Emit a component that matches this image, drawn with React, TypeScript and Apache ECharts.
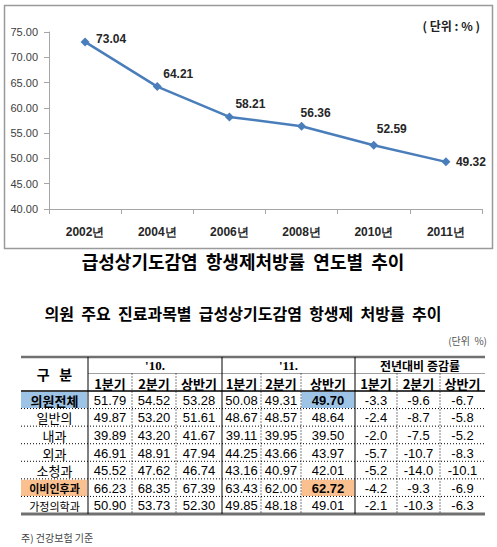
import React, { useEffect, useRef } from "react";
import * as echarts from "echarts";

const years = ["2002년", "2004년", "2006년", "2008년", "2010년", "2011년"];
const rates = [73.04, 64.21, 58.21, 56.36, 52.59, 49.32];
const yTicks = { min: 40, max: 75, interval: 5 };

const rowLabels = ["의원전체", "일반의", "내과", "외과", "소청과", "이비인후과", "가정의학과"];
const vals2010 = [
  [51.79, 54.52, 53.28],
  [49.87, 53.2, 51.61],
  [39.89, 43.2, 41.67],
  [46.91, 48.91, 47.94],
  [45.52, 47.62, 46.74],
  [66.23, 68.35, 67.39],
  [50.9, 53.73, 52.3],
];
const vals2011 = [
  [50.08, 49.31, 49.7],
  [48.67, 48.57, 48.64],
  [39.11, 39.95, 39.5],
  [44.25, 43.66, 43.97],
  [43.16, 40.97, 42.01],
  [63.43, 62.0, 62.72],
  [49.85, 48.18, 49.01],
];
const changes = [
  [-3.3, -9.6, -6.7],
  [-2.4, -8.7, -5.8],
  [-2.0, -7.5, -5.2],
  [-5.7, -10.7, -8.3],
  [-5.2, -14.0, -10.1],
  [-4.2, -9.3, -6.9],
  [-2.1, -10.3, -6.3],
];
const groupHeaders = ["'10.", "'11.", "전년대비 증감률"];
const subHeaders = ["1분기", "2분기", "상반기"];

// styling / layout (not data)
const labelOffsets = [[26, -3], [21, -13], [21, -13], [14, -13], [18, -16], [25, 0]];
const KR = "'Noto Sans CJK KR', sans-serif";
const NUM = "'Liberation Sans', Arial, sans-serif";

export default function App() {
  const ref = useRef<HTMLDivElement>(null);
  useEffect(() => {
    document.body.style.margin = "0";
    const chart = echarts.init(ref.current!, null, { renderer: "svg" });

    const colX = [21, 88, 132, 176, 222, 261, 301, 355, 397, 440, 485];
    const hTop = 357, hMid = 373.5, hBot = 391, tBot = 514;
    const rowH = (tBot - hBot) / rowLabels.length;
    const rowY = (i: number) => hBot + i * rowH;
    const g: any[] = [];

    // chart frame
    g.push({ type: "rect", shape: { x: 4.5, y: 5.5, width: 488, height: 243 }, style: { fill: "none", stroke: "#9a9a9a", lineWidth: 1.5 }, z: 0 });
    g.push({ type: "text", x: 480, y: 25, style: { text: "( 단위 : % )", font: `bold 12px ${KR}`, fill: "#222", textAlign: "right", textVerticalAlign: "middle" } });
    g.push({ type: "text", x: 243, y: 261, style: { text: "급성상기도감염  항생제처방률  연도별  추이", font: `bold 18px ${KR}`, fill: "#000", textAlign: "center", textVerticalAlign: "middle" } });

    // table title
    g.push({ type: "text", x: 243, y: 313, style: { text: "의원  주요  진료과목별  급성상기도감염  항생제  처방률  추이", font: `bold 16px ${KR}`, fill: "#000", textAlign: "center", textVerticalAlign: "middle" } });
    g.push({ type: "text", x: 487, y: 340, style: { text: "(단위  %)", font: `10px ${KR}`, fill: "#555", textAlign: "right", textVerticalAlign: "middle" } });

    // highlights
    const hl = (x1: number, x2: number, r: number, color: string) =>
      g.push({ type: "rect", shape: { x: x1, y: rowY(r) + 1, width: x2 - x1, height: rowH - 1.5 }, style: { fill: color } });
    hl(21, 87, 0, "#9DC3E6");
    hl(301.5, 354.5, 0, "#9DC3E6");
    hl(21, 87, 5, "#FAC090");
    hl(301.5, 354.5, 5, "#FAC090");

    // lines
    const line = (x1: number, y1: number, x2: number, y2: number, stroke: string, lw: number, dash?: number[]) =>
      g.push({ type: "line", shape: { x1, y1, x2, y2 }, style: { stroke, lineWidth: lw, lineDash: dash } });
    line(21, hTop, 485, hTop, "#707070", 2.5);
    line(88, hMid, 485, hMid, "#a0a0a0", 1);
    line(21, hBot, 485, hBot, "#000", 1.5);
    for (let i = 1; i < rowLabels.length; i++) line(21, rowY(i), 485, rowY(i), "#000", 1, [1, 2]);
    line(21, tBot, 485, tBot, "#707070", 3);
    [88, 222, 355].forEach((x) => line(x, hTop, x, tBot, "#000", 1));
    [132, 176, 261, 301, 397, 440].forEach((x) => line(x, hMid, x, tBot, "#000", 1, [1, 2]));

    // headers
    const txt = (x: number, y: number, text: string, font: string, fill = "#000") =>
      g.push({ type: "text", x, y, style: { text, font, fill, textAlign: "center", textVerticalAlign: "middle" } });
    txt((colX[0] + colX[1]) / 2, (hTop + hBot) / 2, "구   분", `bold 14px ${KR}`);
    groupHeaders.forEach((h, gi) => {
      const x1 = colX[1 + gi * 3], x2 = colX[4 + gi * 3];
      txt((x1 + x2) / 2, (hTop + hMid) / 2 + 0.5, h, gi < 2 ? `bold 13px 'Liberation Serif', serif` : `bold 12px ${KR}`);
      subHeaders.forEach((s, si) => {
        const a = colX[1 + gi * 3 + si], b = colX[2 + gi * 3 + si];
        txt((a + b) / 2, (hMid + hBot) / 2 + 1, s, `bold 13px ${KR}`);
      });
    });

    // rows
    rowLabels.forEach((lab, r) => {
      const cy = rowY(r) + rowH / 2 + 0.5;
      const small = lab.length >= 5;
      const bold = r === 0 || r === 5;
      txt((colX[0] + colX[1]) / 2, cy, lab, `${bold ? "bold " : ""}${small ? 11 : 13}px ${KR}`);
      const cells = [...vals2010[r].map((v) => v.toFixed(2)), ...vals2011[r].map((v) => v.toFixed(2)), ...changes[r].map((v) => v.toFixed(1))];
      cells.forEach((c, ci) => {
        const a = colX[1 + ci], b = colX[2 + ci];
        const isBold = (r === 0 || r === 5) && ci === 5;
        txt((a + b) / 2, cy, c, `${isBold ? "bold " : ""}13px ${NUM}`);
      });
    });

    g.push({ type: "text", x: 21, y: 537, style: { text: "주) 건강보험 기준", font: `10px ${KR}`, fill: "#444", textAlign: "left", textVerticalAlign: "middle" } });

    chart.setOption({
      animation: false,
      grid: { left: 49, right: 15, top: 32, bottom: 338 },
      xAxis: {
        type: "category",
        data: years,
        boundaryGap: true,
        axisLine: { lineStyle: { color: "#a6a6a6", width: 1 } },
        axisTick: { show: true, length: 5, lineStyle: { color: "#a6a6a6" } },
        axisLabel: { fontSize: 12, fontWeight: "bold", color: "#262626", margin: 17, fontFamily: NUM },
      },
      yAxis: {
        type: "value",
        min: yTicks.min,
        max: yTicks.max,
        interval: yTicks.interval,
        splitLine: { show: false },
        axisLine: { show: true, lineStyle: { color: "#a6a6a6", width: 1 } },
        axisTick: { show: true, length: 5, lineStyle: { color: "#a6a6a6" } },
        axisLabel: { fontSize: 11, color: "#404040", margin: 11, fontFamily: NUM, formatter: (v: number) => v.toFixed(2) },
      },
      series: [
        {
          type: "line",
          data: rates.map((v, i) => ({
            value: v,
            label: { offset: labelOffsets[i] },
          })),
          symbol: "diamond",
          symbolSize: 9,
          lineStyle: { color: "#4A7EBB", width: 2.5 },
          itemStyle: { color: "#4A7EBB" },
          label: {
            show: true,
            position: "inside",
            align: "center",
            verticalAlign: "middle",
            fontSize: 12,
            fontWeight: "bold",
            fontFamily: NUM,
            color: "#262626",
            formatter: (p: any) => p.value.toFixed(2),
          },
        },
      ],
      graphic: g,
    });
    return () => chart.dispose();
  }, []);
  return <div ref={ref} style={{ width: 497, height: 547 }} />;
}
